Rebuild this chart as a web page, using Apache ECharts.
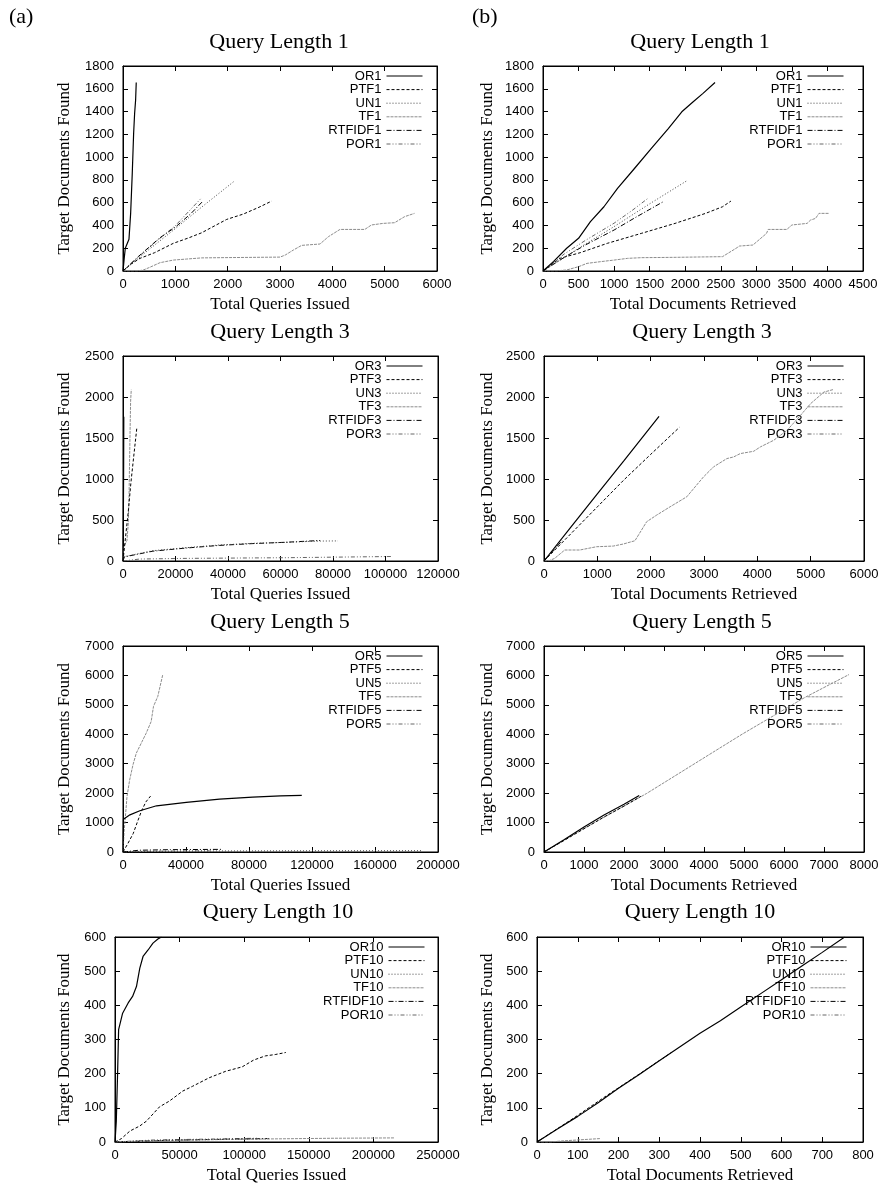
<!DOCTYPE html>
<html><head><meta charset="utf-8">
<script src="https://cdn.jsdelivr.net/npm/echarts@6/dist/echarts.min.js"></script>
<style>html,body{margin:0;padding:0;background:#fff}#c{width:878px;height:1185px}</style>
</head><body><div id="c"></div>
<script>
// ---------- axis settings ----------
const queryLengths = [1, 3, 5, 10];
const methods = ['OR', 'PTF', 'UN', 'TF', 'RTFIDF', 'POR'];
const xMaxQueries = [6000, 120000, 200000, 250000];
const xStepQueries = [1000, 20000, 40000, 50000];
const xMaxDocs = [4500, 6000, 8000, 800];
const xStepDocs = [500, 1000, 1000, 100];
const yMax = [1800, 2500, 7000, 600];
const yStep = [200, 500, 1000, 100];

// ---------- Query length 1 : vs total queries issued ----------
const OR1_q = [[0,0],[25,120],[44,200],[80,215],[114,278],[146,506],[177,857],[203,1208],[222,1383],[241,1500],[253,1655]];
const PTF1_q = [[0,0],[150,60],[325,111],[600,160],[962,243],[1250,290],[1500,335],[1981,453],[2300,500],[2600,560],[2841,614]];
const UN1_q = [[0,0],[500,190],[1000,372],[1500,560],[2127,789]];
const TF1_q = [[0,0],[300,2],[389,9],[500,30],[707,73],[962,96],[1217,105],[1500,115],[1854,117],[3000,122],[3100,140],[3255,184],[3414,225],[3764,237],[3924,301],[4146,365],[4620,365],[4747,404],[4968,418],[5190,424],[5380,477],[5570,506]];
const RTFIDF1_q = [[0,0],[300,130],[700,290],[1000,385],[1300,505],[1535,617]];
const POR1_q = [[0,0],[300,125],[700,285],[1000,398],[1250,520],[1490,637]];
// ---------- Query length 1 : vs total documents retrieved ----------
const OR1_d = [[0,0],[150,85],[333,200],[500,287],[667,433],[857,564],[1048,725],[1286,900],[1524,1076],[1762,1251],[1952,1398],[2100,1480],[2250,1560],[2419,1655]];
const PTF1_d = [[0,0],[238,111],[524,161],[905,243],[1381,330],[1857,418],[2286,506],[2524,564],[2643,614]];
const UN1_d = [[0,0],[500,200],[1000,390],[1500,590],[2030,795]];
const TF1_d = [[0,0],[200,2],[333,9],[500,38],[619,67],[810,82],[1000,96],[1190,111],[1381,117],[1857,120],[2524,126],[2714,199],[2762,219],[2952,228],[3143,330],[3167,365],[3429,365],[3500,404],[3714,418],[3762,447],[3833,462],[3881,506],[4020,506]];
const RTFIDF1_d = [[0,0],[300,120],[600,230],[1000,360],[1300,470],[1690,608]];
const POR1_d = [[0,0],[300,150],[600,270],[1000,420],[1250,530],[1480,640]];

// ---------- Query length 3 ----------
const OR3_q = [[0,0],[150,600],[250,1200],[300,1760]];
const PTF3_q = [[0,0],[1000,300],[2000,600],[3000,950],[4000,1250],[5280,1626]];
const UN3_q = [[0,0],[500,53],[6400,93],[11400,126],[24000,162],[36600,195],[49200,215],[61700,227],[74300,243],[81900,245]];
const TF3_q = [[0,0],[250,170],[1500,250],[2000,450],[2300,800],[2500,1200],[2700,1600],[2900,1950],[3150,2090]];
const RTFIDF3_q = [[0,0],[500,50],[6400,88],[11400,120],[24000,158],[36600,190],[49200,212],[61700,228],[75000,250]];
const POR3_q = [[0,0],[500,12],[6400,24],[24000,32],[61700,40],[102600,55]];
const OR3_d = [[0,0],[500,410],[1000,820],[1500,1225],[2157,1764]];
const PTF3_d = [[0,0],[500,330],[1000,660],[1500,990],[2000,1300],[2539,1630]];
const UN3_d = [[0,0],[150,110],[330,245]];
const TF3_d = [[0,0],[100,5],[200,32],[389,134],[671,134],[984,174],[1298,182],[1486,207],[1705,247],[1925,479],[2113,560],[2364,661],[2677,783],[2991,1026],[3179,1148],[3429,1249],[3555,1269],[3680,1310],[3931,1338],[4056,1391],[4307,1472],[4558,1594],[4809,1776],[4997,1918],[5248,2060],[5436,2093]];
const RTFIDF3_d = [[0,0],[150,110],[340,250]];
const POR3_d = [[0,0],[70,55]];

// ---------- Query length 5 ----------
const OR5_q = [[0,0],[300,1115],[4400,1263],[10700,1400],[21300,1570],[40200,1684],[61300,1797],[82300,1866],[100000,1905],[113500,1925]];
const PTF5_q = [[0,0],[3000,280],[6500,630],[9000,1000],[11800,1400],[14500,1700],[17500,1900]];
const UN5_q = [[0,0],[20000,20],[60000,35],[120000,42],[190000,45]];
const TF5_q = [[0,0],[700,700],[1684,1308],[2526,1877],[4210,2446],[6316,2958],[8421,3356],[11579,3697],[14737,4039],[17895,4437],[19368,4949],[22105,5290],[25263,6030]];
const RTFIDF5_q = [[0,0],[10000,60],[30000,80],[63000,90]];
const POR5_q = [[0,0],[5000,15],[30000,30],[55000,40]];
const OR5_d = [[0,0],[500,420],[1000,850],[1500,1260],[2000,1620],[2380,1920]];
const PTF5_d = [[0,0],[500,390],[1000,790],[1500,1190],[2000,1560],[2420,1890]];
const UN5_d = [[0,0],[30,20],[60,45]];
const TF5_d = [[0,0],[1000,800],[2000,1560],[2567,1990],[3000,2355],[4000,3200],[4950,4000],[5500,4440],[6497,5233],[7000,5590],[7625,6030]];
const RTFIDF5_d = [[0,0],[60,45],[110,90]];
const POR5_d = [[0,0],[50,40]];

// ---------- Query length 10 ----------
const OR10_q = [[0,0],[1000,60],[2000,200],[2800,329],[5900,377],[10200,407],[13600,426],[16600,455],[19200,509],[21700,543],[25600,562],[29400,582],[33200,594],[36000,600]];
const PTF10_q = [[0,0],[5000,10],[11500,32],[19200,47],[24300,61],[34500,103],[42200,120],[52400,149],[60000,163],[72900,188],[85700,207],[98500,220],[107400,240],[116400,252],[124000,256],[132200,262]];
const UN10_q = [[0,0],[30000,4],[70000,7],[120000,10]];
const TF10_q = [[0,0],[20000,3],[60000,6],[120000,9],[170000,11],[216000,12]];
const RTFIDF10_q = [[0,0],[40000,5],[100000,9],[118000,10]];
const POR10_q = [[0,0],[30000,6],[80000,9],[110000,11]];
const OR10_d = [[0,0],[50,38],[100,75],[150,115],[200,157],[250,197],[300,238],[350,278],[400,318],[450,355],[500,395],[550,435],[600,475],[650,515],[700,555],[755,600]];
const PTF10_d = [[0,0],[90,70],[170,135],[240,190],[330,262]];
const UN10_d = [[0,0],[10,8]];
const TF10_d = [[0,0],[33,0],[60,3],[100,6],[155,10]];
const RTFIDF10_d = [[0,0],[12,9]];
const POR10_d = [[0,0],[8,6]];

// tables built from the arrays above
const queriesData = [
  [OR1_q, PTF1_q, UN1_q, TF1_q, RTFIDF1_q, POR1_q],
  [OR3_q, PTF3_q, UN3_q, TF3_q, RTFIDF3_q, POR3_q],
  [OR5_q, PTF5_q, UN5_q, TF5_q, RTFIDF5_q, POR5_q],
  [OR10_q, PTF10_q, UN10_q, TF10_q, RTFIDF10_q, POR10_q]
];
const docsData = [
  [OR1_d, PTF1_d, UN1_d, TF1_d, RTFIDF1_d, POR1_d],
  [OR3_d, PTF3_d, UN3_d, TF3_d, RTFIDF3_d, POR3_d],
  [OR5_d, PTF5_d, UN5_d, TF5_d, RTFIDF5_d, POR5_d],
  [OR10_d, PTF10_d, UN10_d, TF10_d, RTFIDF10_d, POR10_d]
];

// ---------- styles & layout ----------
const lineStyles = [
  {color:'#000', width:1.2, type:'solid'},
  {color:'#000', width:1, type:[3,2]},
  {color:'#444', width:1, type:[1,2]},
  {color:'#8c8c8c', width:1, type:[3,1]},
  {color:'#000', width:1, type:[5,2,1,2]},
  {color:'#666', width:1, type:[4,2,1,2,1,2]}
];
const rowTop = [66, 356, 646, 937];
const rowH = [205, 205, 206, 205];
const colLeft = [[123,543],[123,544],[123,544],[115,537]];
const colRight = [[437,863],[438,864],[438,864],[438,863]];
const legendRight = [[455,34],[455,34],[455,34],[453,31]];
const titleCx = [[279,700],[280,702],[280,702],[278,700]];
const yNameCx = [[65,488],[65,488],[65,488],[65,488]];

const serif = '"Liberation Serif","Times New Roman",serif';
const sans = '"Liberation Sans",Arial,sans-serif';

const grids = [], xAxes = [], yAxes = [], xMirror = [], yMirror = [], series = [], titles = [], legends = [];
titles.push({text:'(a)', left:9, top:6, padding:0, textStyle:{fontFamily:serif, fontSize:22, fontWeight:'normal', color:'#000'}});
titles.push({text:'(b)', left:472, top:6, padding:0, textStyle:{fontFamily:serif, fontSize:22, fontWeight:'normal', color:'#000'}});

for (let r = 0; r < 4; r++) {
  for (let c = 0; c < 2; c++) {
    const idx = r * 2 + c;
    const left = colLeft[r][c], right = colRight[r][c];
    grids.push({left:left, top:rowTop[r], width:right-left, height:rowH[r], show:true, borderColor:'#000', borderWidth:1, backgroundColor:'transparent', containLabel:false, outerBoundsMode:'none'});
    const xmax = c === 0 ? xMaxQueries[r] : xMaxDocs[r];
    const xstep = c === 0 ? xStepQueries[r] : xStepDocs[r];
    const common = {type:'value', gridIndex:idx, splitLine:{show:false}, axisLine:{show:true, onZero:false, lineStyle:{color:'#000', width:1}}, axisTick:{show:true, inside:true, length:5, lineStyle:{color:'#000'}}};
    xAxes.push(Object.assign({}, common, {
      position:'bottom', min:0, max:xmax, interval:xstep,
      name: c === 0 ? 'Total Queries Issued' : 'Total Documents Retrieved',
      nameLocation:'middle', nameGap:25,
      nameTextStyle:{fontFamily:serif, fontSize:17, color:'#000'},
      axisLabel:{show:true, margin:7, fontFamily:sans, fontSize:13, color:'#000', showMinLabel:true, showMaxLabel:true, formatter:v => String(v)}
    }));
    xMirror.push(Object.assign({}, common, {position:'top', min:0, max:xmax, interval:xstep, axisLabel:{show:false}}));
    const yGap = (left - yNameCx[r][c]) - 8.5;
    yAxes.push(Object.assign({}, common, {
      position:'left', min:0, max:yMax[r], interval:yStep[r],
      name:'Target Documents Found', nameLocation:'middle', nameGap:yGap,
      nameTextStyle:{fontFamily:serif, fontSize:17, color:'#000'},
      axisLabel:{show:true, margin:9, fontFamily:sans, fontSize:13, color:'#000', showMinLabel:true, showMaxLabel:true, formatter:v => String(v)}
    }));
    yMirror.push(Object.assign({}, common, {position:'right', min:0, max:yMax[r], interval:yStep[r], axisLabel:{show:false}}));

    titles.push({text:'Query Length ' + queryLengths[r], left:titleCx[r][c], top:[43,333,623,913][r] - 12, textAlign:'center', padding:0,
      textStyle:{fontFamily:serif, fontSize:22, fontWeight:'normal', color:'#000'}});

    const table = c === 0 ? queriesData : docsData;
    for (let m = 0; m < 6; m++) {
      const name = methods[m] + queryLengths[r];
      series.push({
        type:'line', name:name, xAxisIndex:idx, yAxisIndex:idx, data:table[r][m],
        symbol:'none', showSymbol:false, smooth:false, clip:true, silent:true,
        lineStyle:lineStyles[m], itemStyle:{color:lineStyles[m].color},
        emphasis:{disabled:true}, animation:false, z:10 - m
      });
      legends.push({
        data:[name], orient:'vertical', align:'right', right:legendRight[r][c],
        top:rowTop[r] + 10 + m * 13.6 - 7, padding:0, itemGap:0, itemWidth:36, itemHeight:12,
        selectedMode:false,
        itemStyle:{opacity:0, color:'transparent', borderWidth:0},
        lineStyle:{width:1},
        textStyle:{fontFamily:sans, fontSize:13, color:'#000', lineHeight:14}
      });
    }
  }
}

const chart = echarts.init(document.getElementById('c'), null, {renderer:'canvas'});
chart.setOption({
  animation:false,
  backgroundColor:'#fff',
  title:titles,
  legend:legends,
  grid:grids,
  xAxis:xAxes.concat(xMirror),
  yAxis:yAxes.concat(yMirror),
  series:series
});
</script></body></html>
